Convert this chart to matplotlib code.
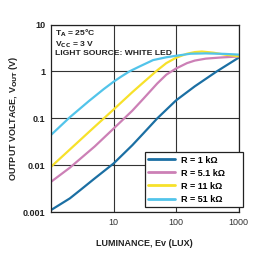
import matplotlib
matplotlib.use("Agg")
import matplotlib.pyplot as plt

plt.rcParams['font.family'] = ['Liberation Sans', 'DejaVu Sans']

# values (lux, volts)
lux_1k = [1, 2, 3, 5, 10, 20, 30, 50, 100, 200, 450, 1000]
vout_1k = [0.0011, 0.00195, 0.003, 0.0052, 0.0108, 0.0266, 0.0474, 0.099, 0.24, 0.48, 1.0, 1.95]

lux_5k1 = [1, 2, 5, 10, 20, 30, 50, 70, 100, 150, 200, 300, 500, 1000]
vout_5k1 = [0.0044, 0.0088, 0.025, 0.06, 0.145, 0.26, 0.55, 0.85, 1.15, 1.5, 1.7, 1.87, 1.97, 2.08]

lux_11k = [1, 2, 5, 10, 20, 30, 50, 70, 100, 150, 200, 260, 400, 600, 1000]
vout_11k = [0.0092, 0.0215, 0.066, 0.153, 0.36, 0.58, 1.05, 1.5, 1.95, 2.38, 2.58, 2.65, 2.5, 2.28, 2.1]

lux_51k = [1, 2, 4, 7, 10, 13, 18, 27, 43, 70, 100, 170, 300, 600, 1000]
vout_51k = [0.044, 0.105, 0.23, 0.42, 0.6, 0.76, 1.0, 1.3, 1.74, 2.0, 2.15, 2.38, 2.42, 2.36, 2.28]

labels = ['R = 1 k\u03a9', 'R = 5.1 k\u03a9', 'R = 11 k\u03a9', 'R = 51 k\u03a9']
colors = ['#1b6fa3', '#cc80b6', '#f7e12a', '#52c4ea']

x_ticks = [10, 100, 1000]
y_ticks = [0.001, 0.01, 0.1, 1, 10]
y_ticklabels = ['0.001', '0.01', '0.1', '1', '10']

fig = plt.figure(figsize=(2.77, 2.59), dpi=100)
ax = fig.add_axes([51/277, 47/259, 187.5/277, 187.5/259])

series = [(lux_1k, vout_1k), (lux_5k1, vout_5k1), (lux_11k, vout_11k), (lux_51k, vout_51k)]
for (xs, ys), c, lab in zip(series, colors, labels):
    ax.plot(xs, ys, color=c, lw=1.6, label=lab, solid_capstyle='round', solid_joinstyle='round')

ax.set_xscale('log')
ax.set_yscale('log')
ax.set_xlim(1, 1000)
ax.set_ylim(0.001, 10)

ax.set_xticks(x_ticks)
ax.set_xticklabels([str(t) for t in x_ticks], fontsize=6.5, color='#333333')
ax.set_yticks(y_ticks)
ax.set_yticklabels(y_ticklabels, fontsize=6.5, fontweight='bold', color='#222222')
ax.minorticks_off()
ax.tick_params(length=0, pad=4)

ax.grid(True, which='major', color='#333333', lw=0.8)
for s in ax.spines.values():
    s.set_color('#222222')
    s.set_linewidth(0.9)

ax.set_xlabel('LUMINANCE, Ev (LUX)', fontsize=6.5, fontweight='bold', labelpad=9, color='#222222')
ax.set_ylabel('OUTPUT VOLTAGE, V$_{\\mathbf{OUT}}$ (V)', fontsize=6.5, fontweight='bold', labelpad=2, color='#222222')

# test conditions, top left
ax.text(0.022, 0.985, 'T$_{\\mathbf{A}}$ = 25\u00b0C\nV$_{\\mathbf{CC}}$ = 3 V\nLIGHT SOURCE: WHITE LED',
        transform=ax.transAxes, fontsize=6.1, fontweight='bold', va='top', ha='left',
        color='#222222', linespacing=1.05)

leg = ax.legend(loc='lower left', bbox_to_anchor=(0.50, 0.025, 0.522, 0.30), mode='expand',
                borderaxespad=0, frameon=True, fancybox=False, framealpha=1,
                edgecolor='#222222', handlelength=3.0, handletextpad=0.6, labelspacing=0.45,
                prop={'weight': 'bold', 'size': 6.5})
leg.get_frame().set_linewidth(0.9)
for h in leg.get_lines():
    h.set_linewidth(2.0)

fig.savefig('out.png', dpi=100)
